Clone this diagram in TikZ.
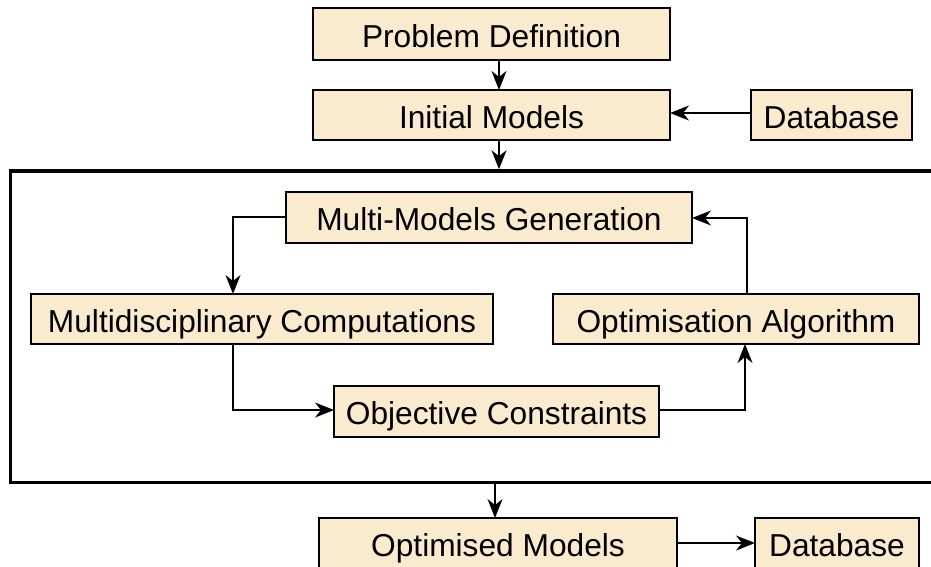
\documentclass[tikz,border=0pt]{standalone}
\usepackage{fontspec}
\setmainfont{Liberation Sans}
\usetikzlibrary{arrows.meta,calc}
\definecolor{boxfill}{RGB}{251,235,206}
\tikzset{
  blk/.style={draw=black, line width=1.6pt, fill=boxfill, inner sep=0pt, outer sep=0pt,
    font=\fontsize{31.7}{36}\selectfont, text height=26.5pt, text depth=0pt, anchor=center},
  arr/.style={line width=1.5pt, -{Stealth[length=19pt,width=15pt,inset=6pt]}},
  lin/.style={line width=1.5pt}
}
\begin{document}
\begin{tikzpicture}[x=1pt,y=-1pt]
\useasboundingbox (0,0) rectangle (931,566);
% big frame
\node[draw, line width=3.5pt, minimum width=929.5pt, minimum height=311.5pt, inner sep=0pt, outer sep=1.75pt] (frame) at (475.25,326.75) {};
% boxes
\node[blk, minimum width=357pt, minimum height=52pt] (pd) at (491.5,34) {Problem Definition};
\node[blk, minimum width=357pt, minimum height=50pt] (im) at (491.5,115) {Initial Models};
\node[blk, minimum width=161pt, minimum height=50pt] (db1) at (831.5,115) {Database};
\node[blk, minimum width=406pt, minimum height=51pt] (mmg) at (489,217.5) {Multi-Models Generation};
\node[blk, minimum width=462pt, minimum height=50pt] (mc) at (262,319) {Multidisciplinary Computations};
\node[blk, minimum width=366pt, minimum height=50pt] (oa) at (736,319) {Optimisation Algorithm};
\node[blk, minimum width=325pt, minimum height=51pt] (oc) at (496.5,411.5) {Objective Constraints};
\node[blk, minimum width=358pt, minimum height=50pt] (om) at (498,543) {Optimised Models};
\node[blk, minimum width=164pt, minimum height=50pt] (db2) at (837,543) {Database};
% helper coordinates
\coordinate (c1) at (233,217);
\coordinate (c2) at (747,218);
\coordinate (c3) at (233,410);
\coordinate (c4) at (745,410);
\coordinate (c5) at (495,500);
% connectors
\draw[arr] ([xshift=7.5pt]pd.south) -- ([xshift=7.5pt]im.north);
\draw[arr] ([xshift=7.5pt]im.south) -- ([xshift=7.5pt]im.south |- frame.north);
\draw[arr] (db1.west |- 0,113) -- (im.east |- 0,113);
\draw[arr] (mmg.west |- c1) -- (c1) -- (c1 |- mc.north);
\draw[arr] (c2 |- oa.north) -- (c2) -- (mmg.east |- c2);
\draw[arr] (c3 |- mc.south) -- (c3) -- (oc.west |- c3);
\draw[arr] (oc.east |- c4) -- (c4) -- (c4 |- oa.south);
\draw[arr] (c5 |- frame.south) -- (c5 |- om.north);
\draw[arr] (om.east |- 0,543) -- (db2.west |- 0,543);
\end{tikzpicture}
\end{document}
